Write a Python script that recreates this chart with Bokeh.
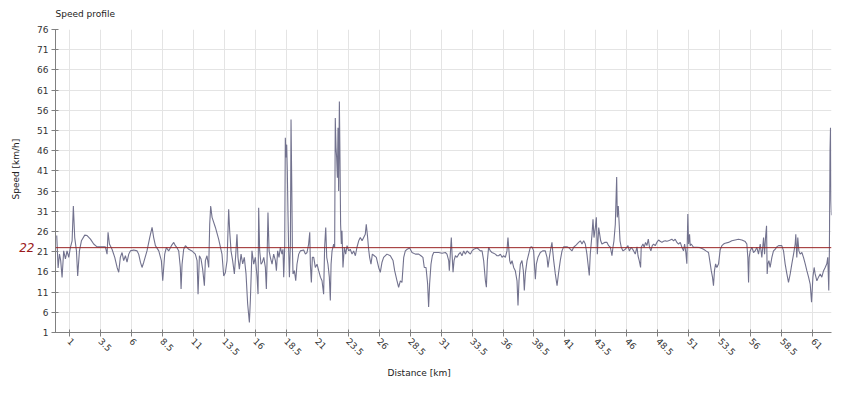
import math
from bokeh.plotting import figure
from bokeh.models import FixedTicker, Span, Range1d, LinearAxis, Title
from bokeh.embed import file_html
from bokeh.resources import INLINE

# ---- data ----
distance_km = [
    0.00, 0.11, 0.22, 0.32, 0.43, 0.56, 0.70, 0.83, 0.97, 1.10, 1.24, 1.34, 1.45, 1.59, 1.69, 1.83, 1.99,
    2.26, 2.45, 2.72, 2.98, 3.25, 3.92, 4.06, 4.14, 4.25, 4.46, 4.68, 4.87, 5.00, 5.13, 5.27, 5.40, 5.54,
    5.67, 5.81, 5.94, 6.21, 6.48, 6.61, 6.75, 6.88, 7.02, 7.28, 7.50, 7.69, 7.82, 7.96, 8.23, 8.44, 8.55,
    8.71, 8.84, 9.03, 9.25, 9.44, 9.57, 9.70, 9.84, 9.97, 10.03, 10.11, 10.24, 10.38, 10.65, 10.91, 11.18,
    11.32, 11.40, 11.51, 11.64, 11.77, 11.91, 11.99, 12.12, 12.26, 12.34, 12.42, 12.53, 12.80, 13.06, 13.33,
    13.47, 13.60, 13.74, 13.87, 13.95, 14.06, 14.19, 14.33, 14.46, 14.54, 14.62, 14.73, 14.87, 15.00, 15.13,
    15.27, 15.40, 15.54, 15.62, 15.75, 15.89, 16.02,
    16.16, 16.24, 16.29, 16.37, 16.48, 16.59, 16.70, 16.83, 16.91, 16.96, 17.04, 17.13, 17.23, 17.37, 17.50,
    17.64, 17.72, 17.82, 17.93, 18.04, 18.17, 18.25, 18.31, 18.39, 18.44, 18.50, 18.55, 18.60, 18.66, 18.71,
    18.77, 18.85, 18.90, 18.95, 19.01, 19.06, 19.17, 19.28, 19.38, 19.52, 19.65, 19.92, 20.06, 20.19, 20.32,
    20.41, 20.46, 20.54, 20.62, 20.73, 20.86, 21.00, 21.13, 21.27, 21.40, 21.53, 21.61, 21.70, 21.78, 21.88,
    21.99, 22.07, 22.13, 22.21, 22.34, 22.42, 22.47, 22.53, 22.58, 22.64, 22.69, 22.74, 22.80, 22.85, 22.90,
    22.96, 23.01, 23.09, 23.20, 23.31, 23.42, 23.55, 23.68, 23.82, 23.95, 24.09, 24.22, 24.36, 24.49, 24.63,
    24.76, 24.89, 24.97, 25.08, 25.16, 25.24, 25.35, 25.46, 25.62, 25.78, 25.97, 26.10, 26.24, 26.37, 26.64,
    26.91, 27.13, 27.26, 27.45, 27.58, 27.72, 27.85, 27.99, 28.12, 28.27, 28.47, 28.66, 28.93, 29.20, 29.38,
    29.54, 29.65, 29.79, 29.92, 30.00, 30.08, 30.19, 30.30, 30.41, 30.54, 30.81, 31.08,
    31.35, 31.48, 31.62, 31.67, 31.75, 31.83, 31.89, 31.97, 32.05, 32.16, 32.29, 32.43, 32.56, 32.69, 32.83,
    32.96, 33.10, 33.23, 33.37, 33.50, 33.63, 33.90, 34.04, 34.17, 34.31, 34.44, 34.58, 34.66, 34.74, 34.84,
    34.98, 35.11, 35.25, 35.38, 35.52, 35.65, 35.79, 35.92, 36.05, 36.19, 36.32, 36.40, 36.46, 36.54, 36.62,
    36.73, 36.86, 36.99, 37.13, 37.21, 37.29, 37.40, 37.53, 37.64, 37.72, 37.80, 37.94, 38.07, 38.20, 38.34,
    38.47, 38.55, 38.61, 38.69, 38.82, 39.01, 39.20, 39.41, 39.55, 39.63, 39.74, 39.82, 39.95, 40.01, 40.09,
    40.22, 40.36, 40.49, 40.62, 40.76, 40.89, 41.16, 41.35, 41.56, 41.70, 41.91, 42.10, 42.24, 42.37, 42.51,
    42.64, 42.77, 42.86, 42.96, 43.04, 43.18, 43.26, 43.34, 43.45, 43.53, 43.61, 43.72, 43.80, 43.88, 43.98,
    44.20, 44.39, 44.52, 44.66, 44.79, 44.87, 44.95, 45.06, 45.17, 45.22, 45.30, 45.36, 45.44, 45.54, 45.68,
    45.87, 46.08, 46.19, 46.35, 46.54, 46.67, 46.81, 46.89, 46.99, 47.10,
    47.15, 47.29, 47.39, 47.50, 47.61, 47.72, 47.82, 47.93, 48.04, 48.15, 48.28, 48.41, 48.55, 48.68, 48.82,
    48.95, 49.09, 49.22, 49.35, 49.49, 49.62, 49.76, 49.89, 50.03, 50.16, 50.30, 50.43, 50.56, 50.65, 50.75,
    50.83, 50.91, 50.97, 51.05, 51.10, 51.18, 51.37, 51.64, 51.91, 52.18, 52.37, 52.58, 52.72, 52.80, 52.90,
    52.98, 53.06, 53.15, 53.25, 53.39, 53.52, 53.66, 53.79, 53.92, 54.19, 54.46, 54.73, 55.00, 55.27, 55.54,
    55.67, 55.75, 55.81, 55.86, 55.94, 56.08, 56.21, 56.34, 56.48, 56.61, 56.75, 56.88, 57.02, 57.10, 57.18,
    57.26, 57.31, 57.37, 57.45, 57.55, 57.69, 57.82, 57.96, 58.09, 58.23, 58.36, 58.49, 58.63, 58.76, 58.90,
    59.03, 59.17, 59.30, 59.44, 59.57, 59.62, 59.70, 59.78, 59.87, 59.97, 60.11, 60.24, 60.38, 60.51, 60.65,
    60.78, 60.89, 61.00, 61.10, 61.18, 61.32, 61.45, 61.59, 61.72, 61.86, 61.99, 62.12, 62.20, 62.28, 62.33,
    62.38, 62.42, 62.46, 62.50,
]

speed_kmh = [
    25.0, 17.0, 20.4, 18.8, 14.6, 21.2, 19.2, 21.2, 19.6, 22.0, 23.7, 32.3, 24.5, 21.2, 15.0, 21.2, 23.7,
    25.1, 25.0, 24.1, 22.9, 22.2, 22.2, 20.4, 25.8, 22.9, 21.6, 19.6, 17.1, 15.9, 19.6, 20.8, 18.8, 20.0,
    18.4, 20.4, 21.2, 21.4, 21.2, 20.4, 18.4, 17.1, 18.4, 21.2, 24.5, 27.0, 24.5, 22.5, 21.2, 18.8, 13.8,
    20.4, 22.0, 21.2, 22.5, 23.3, 22.5, 22.0, 21.2, 17.1, 11.8, 17.9, 21.6, 22.5, 21.6, 21.2, 20.4,
    18.8, 10.5, 20.0, 19.2, 16.7, 12.6, 18.8, 20.0, 17.1, 27.8, 32.3, 29.5, 27.0, 24.1, 20.4,
    15.0, 15.8, 18.8, 31.5, 26.2, 21.2, 18.8, 15.5, 21.2, 25.3, 19.6, 16.7, 20.4, 18.0, 19.6,
    15.5, 8.1, 3.5, 9.0, 21.2, 17.9, 19.6,
    14.7, 10.5, 31.9, 21.2, 17.9, 18.4, 19.6, 17.1, 11.8, 17.9, 30.7, 21.2, 19.6, 17.9, 20.4,
    18.8, 16.3, 21.2, 19.6, 22.1, 20.4, 21.6, 14.7, 22.1, 49.2, 44.3, 47.5, 41.0, 29.5, 21.2,
    14.7, 22.9, 53.7, 40.1, 22.1, 15.5, 16.3, 13.8, 17.9, 20.4, 21.2, 21.4, 20.4, 20.8, 22.9,
    25.8, 17.9, 13.4, 19.6, 19.6, 17.1, 17.9, 16.3, 14.7, 13.8, 10.5, 22.1, 27.0, 19.6, 17.9,
    14.7, 8.9, 17.9, 21.2, 22.9, 22.1, 54.1, 46.7, 44.3, 39.3, 51.7, 36.0, 58.2, 44.3, 27.8,
    22.9, 26.2, 17.1, 22.1, 20.4, 22.5, 21.2, 21.6, 20.4, 21.2, 20.0, 22.1, 23.7, 24.5, 23.7,
    24.5, 25.3, 27.8, 24.5, 21.6, 19.6, 17.9, 20.4, 20.0, 19.6, 17.1, 15.9, 18.4, 19.6, 20.4,
    20.0, 18.8, 16.3, 13.8, 12.2, 13.8, 13.4, 19.6, 21.2, 21.6, 21.9, 20.8, 20.4, 20.4, 20.0,
    19.6, 17.1, 17.1, 13.0, 7.3, 13.0, 17.9, 20.0, 20.8, 20.8, 20.8, 20.6,
    20.8, 20.4, 18.8, 16.3, 20.4, 24.5, 20.4, 15.9, 18.8, 20.0, 19.6, 20.4, 20.8, 20.0, 21.2,
    20.4, 21.2, 20.8, 20.4, 21.2, 21.6, 21.9, 21.6, 21.2, 21.2, 18.8, 13.8, 12.2, 18.8, 22.1,
    21.2, 20.8, 20.6, 20.4, 20.0, 20.0, 20.4, 19.6, 20.0, 19.6, 21.2, 24.5, 22.1, 18.8, 17.9,
    18.8, 17.1, 16.3, 13.8, 7.7, 13.8, 17.9, 18.8, 16.3, 11.4, 15.5, 18.8, 20.4, 22.1, 22.2,
    21.2, 17.1, 14.2, 17.9, 19.6, 20.8, 21.2, 21.2, 19.6, 17.1, 19.6, 21.2, 23.3, 21.2, 18.8,
    15.5, 12.6, 15.9, 18.8, 21.2, 22.2, 22.2, 21.9, 21.2, 22.1, 22.7, 23.3, 23.7, 22.9, 23.7,
    22.9, 20.4, 17.9, 15.1, 20.4, 25.3, 29.0, 24.5, 27.0, 29.5, 20.4, 27.0, 25.3, 23.7, 22.9,
    23.3, 23.3, 22.5, 22.1, 20.0, 22.1, 23.7, 27.8, 39.5, 29.5, 32.3, 28.6, 23.7, 22.1, 21.2,
    21.6, 22.5, 21.2, 22.1, 21.2, 20.4, 22.2, 20.0, 18.8, 17.1,
    22.1, 22.9, 22.1, 23.3, 22.5, 24.1, 22.1, 21.2, 22.5, 22.9, 22.5, 23.3, 23.9, 23.6, 23.3,
    23.6, 23.7, 23.6, 23.7, 23.9, 24.1, 23.7, 24.1, 23.3, 22.9, 23.3, 22.1, 21.2, 22.9, 20.8,
    18.0, 30.3, 22.9, 25.3, 22.5, 22.9, 22.1, 22.1, 22.0, 21.6, 21.2, 20.8, 18.0, 16.3, 14.7,
    12.6, 16.3, 18.0, 17.1, 18.0, 21.5, 22.5, 22.9, 23.1, 23.3, 23.7, 23.9, 24.1, 23.9, 23.5,
    22.9, 19.6, 13.4, 19.6, 21.2, 22.1, 20.8, 21.2, 22.1, 20.4, 22.9, 19.6, 24.5, 20.4, 24.5,
    27.4, 15.5, 18.0, 18.8, 17.1, 19.6, 21.2, 21.6, 22.2, 22.5, 22.5, 22.5, 21.2, 18.0, 15.5,
    13.4, 15.5, 18.0, 20.4, 22.9, 25.3, 19.6, 24.5, 21.2, 20.4, 20.8, 19.6, 18.0, 16.3, 14.7,
    13.0, 8.5, 14.7, 17.1, 15.5, 13.8, 14.7, 15.5, 14.7, 16.3, 17.1, 18.0, 19.6, 11.4, 21.2,
    45.9, 51.7, 33.6, 30.0,
]

average_speed = 22
x_ticks = [1, 3.5, 6, 8.5, 11, 13.5, 16, 18.5, 21, 23.5, 26, 28.5, 31, 33.5, 36, 38.5,
           41, 43.5, 46, 48.5, 51, 53.5, 56, 58.5, 61]
y_ticks = [1, 6, 11, 16, 21, 26, 31, 36, 41, 46, 51, 56, 61, 66, 71, 76]

FONT = "DejaVu Sans"

p = figure(width=850, height=399, output_backend="svg", toolbar_location=None,
           x_range=Range1d(-0.1, 62.5), y_range=Range1d(1, 76),
           min_border_left=55, min_border_right=19, min_border_top=28, min_border_bottom=67)

p.title.text = "Speed profile"
p.title.text_font = FONT
p.title.text_font_size = "9px"
p.title.text_font_style = "normal"
p.title.text_color = "#222222"
p.title.align = "left"
p.title.vertical_align = "top"
p.title.standoff = 17

p.outline_line_color = None
p.background_fill_color = "white"
p.border_fill_color = "white"

p.xgrid.ticker = FixedTicker(ticks=x_ticks)
p.ygrid.ticker = FixedTicker(ticks=y_ticks)
p.grid.grid_line_color = "#e4e4e4"
p.grid.grid_line_width = 1

p.xaxis.ticker = FixedTicker(ticks=x_ticks)
p.yaxis.ticker = FixedTicker(ticks=y_ticks)
for ax in (p.xaxis[0], p.yaxis[0]):
    ax.axis_line_color = "#808080"
    ax.major_tick_line_color = "#808080"
    ax.major_tick_out = 4
    ax.major_tick_in = 3
    ax.minor_tick_line_color = None
    ax.major_label_text_font = FONT
    ax.major_label_text_font_size = "9px"
    ax.major_label_text_color = "#333333"
    ax.major_label_standoff = 3

p.xaxis.major_label_orientation = -math.pi / 4

# second left axis: carries the red "22" mark of the average
avg_axis = LinearAxis(ticker=FixedTicker(ticks=[average_speed]),
                      axis_line_color=None, major_tick_line_color=None,
                      minor_tick_line_color=None, major_tick_out=0, major_tick_in=0,
                      major_label_standoff=0, major_label_text_font=FONT,
                      major_label_text_font_size="12px", major_label_text_font_style="italic",
                      major_label_text_color="#9b1b1b")
p.add_layout(avg_axis, "left")

p.add_layout(Title(text="Speed [km/h]", align="left", offset=133, standoff=-8,
                   text_font=FONT, text_font_size="9px", text_font_style="normal",
                   text_color="#222222"), "left")

p.add_layout(Title(text="Distance [km]", align="left", offset=332, standoff=8,
                   text_font=FONT, text_font_size="9px", text_font_style="normal",
                   text_color="#222222"), "below")

p.line(distance_km, speed_kmh, line_color="#72728e", line_width=1.1)

p.add_layout(Span(location=average_speed, dimension="width", line_color="#9a2424", line_width=1))

open("out.html", "w").write(file_html(p, INLINE))
